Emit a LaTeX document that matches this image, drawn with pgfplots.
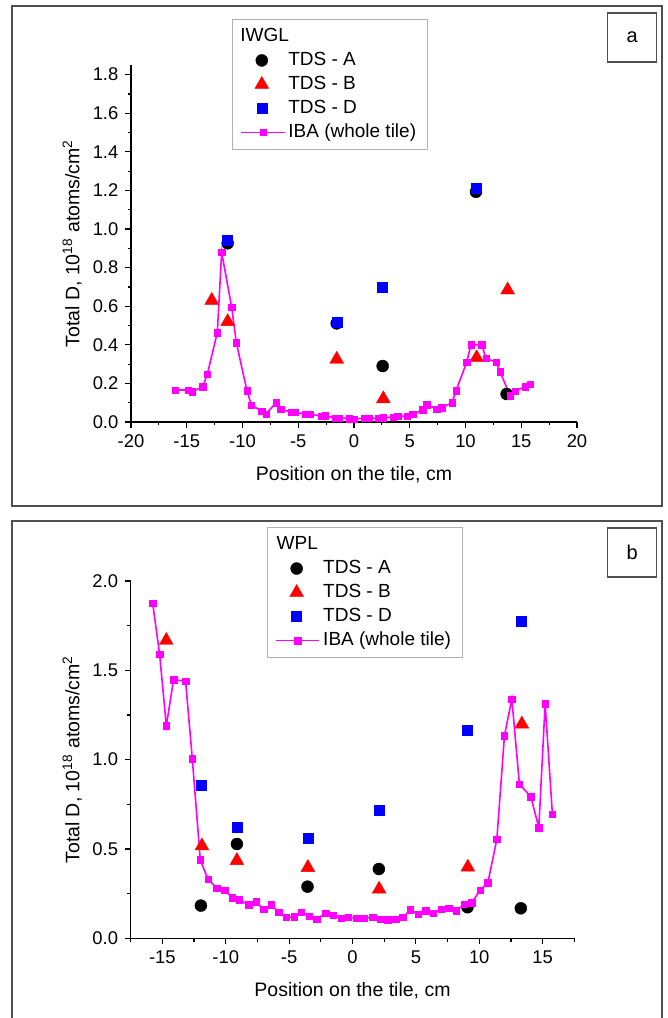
\documentclass[border=0pt]{standalone}
\usepackage{fontspec}
\setmainfont{Liberation Sans}
\usepackage{pgfplots}
\pgfplotsset{compat=1.18}
\definecolor{iba}{RGB}{255,0,255}
\definecolor{frame}{RGB}{80,80,80}
\pgfplotsset{
  common/.style={
    scale only axis,
    axis x line*=bottom, axis y line*=left,
    axis line style={-, line width=0.6pt, black},
    tick align=outside,
    tick style={line width=0.6pt, black},
    major tick length=2.8pt, minor tick length=1.6pt,
    /pgf/number format/assume math mode=true,
    ticklabel style={font=\fontsize{9.2}{11}\selectfont},
    yticklabel style={/pgf/number format/.cd, fixed, fixed zerofill, precision=1},
    xticklabel style={/pgf/number format/.cd, fixed},
    label style={font=\fontsize{9.75}{11.5}\selectfont},
    xlabel={Position on the tile, cm},
    ylabel={Total D, 10\textsuperscript{18} atoms/cm\textsuperscript{2}},
    xlabel style={at={(axis description cs:0.5,-0.148)}, anchor=center},
    ylabel style={at={(axis description cs:-0.132,0.5)}, anchor=center},
    legend style={anchor=north west, draw=gray!60, line width=0.5pt, fill=white,
      font=\fontsize{9.5}{11}\selectfont,
      inner xsep=4pt, inner ysep=2.5pt, row sep=0pt,
      nodes={inner sep=1.5pt, text height=7pt, text depth=2pt}},
    legend cell align=left,
    tdsA/.style={only marks, mark=*, black, mark size=3pt, mark options={line width=0.2pt},
      legend image code/.code={\path (0,0) (0.76cm,0);\draw[##1] plot coordinates {(0.36cm,0cm)};}},
    tdsB/.style={only marks, mark=triangle*, red, mark size=4pt, mark options={line width=0.2pt},
      legend image code/.code={\path (0,0) (0.76cm,0);\draw[##1] plot coordinates {(0.36cm,0cm)};}},
    tdsD/.style={only marks, mark=square*, blue, mark size=2.5pt, mark options={line width=0.2pt},
      legend image code/.code={\path (0,0) (0.76cm,0);\draw[##1] plot coordinates {(0.36cm,0cm)};}},
    ibaS/.style={iba, line width=0.8pt, mark=square*, mark size=1.6pt, mark options={line width=0.2pt},
      legend image code/.code={\draw[mark repeat=2,mark phase=2,##1] plot coordinates {(0cm,0cm) (0.38cm,0cm) (0.76cm,0cm)};}},
  }
}
\begin{document}
\begin{tikzpicture}
\useasboundingbox (0pt,0pt) rectangle (334pt,509pt);
% frames
\draw[line width=0.6pt, frame] (6pt,256pt) rectangle (331pt,506pt);
\draw[line width=0.6pt, frame] (6pt,0pt) -- (6pt,248.5pt) -- (331pt,248.5pt) -- (331pt,0pt);
\draw[line width=0.6pt, frame] (303.85pt,478pt) rectangle (328.35pt,502.5pt);
\node[font=\fontsize{10}{12}\selectfont] at (316.1pt,490.5pt) {a};
\draw[line width=0.6pt, frame] (303.85pt,220.5pt) rectangle (328.35pt,245pt);
\node[font=\fontsize{10}{12}\selectfont] at (316.1pt,233pt) {b};

% ---------------- panel a ----------------
\begin{axis}[common,
  at={(65.5pt,298pt)}, anchor=south west,
  width=223pt, height=178.5pt,
  xmin=-20, xmax=20, ymin=0, ymax=1.85,
  xtick={-20,-15,...,20}, minor xtick={-17.5,-12.5,...,17.5},
  ytick={0,0.2,0.4,0.6,0.8,1.0,1.2,1.4,1.6,1.8},
  minor ytick={0.1,0.3,0.5,0.7,0.9,1.1,1.3,1.5,1.7},
  legend style={at={(axis description cs:0.2265,1.129)}},
]
\addlegendimage{empty legend}
\addlegendentry{\hspace*{-24pt}IWGL}
\addplot[tdsA] coordinates {(-11.33,0.926) (-1.55,0.511) (2.57,0.29) (10.94,1.193) (13.69,0.145)};
\addlegendentry{TDS - A}
\addplot[tdsB] coordinates {(-12.76,0.63) (-11.33,0.52) (-1.55,0.325) (2.63,0.12) (11.0,0.333) (13.78,0.684)};
\addlegendentry{TDS - B}
\addplot[tdsD] coordinates {(-11.33,0.943) (-1.55,0.516) (2.57,0.70) (10.94,1.21)};
\addlegendentry{TDS - D}
\addplot[ibaS] coordinates {
(-16.05,0.166) (-14.86,0.166) (-14.5,0.157) (-13.57,0.183) (-13.16,0.247)
(-12.26,0.463) (-11.87,0.88) (-10.97,0.594) (-10.55,0.41) (-9.6,0.162)
(-9.2,0.088) (-8.28,0.057) (-7.9,0.041) (-7.0,0.10) (-6.57,0.066)
(-5.59,0.05) (-5.3,0.05) (-4.4,0.041) (-3.95,0.041) (-2.96,0.03)
(-2.6,0.033) (-1.7,0.021) (-1.32,0.021) (-0.42,0.018) (0.03,0.016)
(0.9,0.02) (1.37,0.02) (2.18,0.02) (2.63,0.022) (3.53,0.025)
(3.92,0.03) (4.78,0.03) (5.26,0.04) (6.16,0.063) (6.52,0.09)
(7.42,0.067) (7.86,0.074) (8.79,0.10) (9.15,0.162) (10.1,0.309)
(10.49,0.40) (11.45,0.40) (11.84,0.33) (12.74,0.31) (13.1,0.26)
(14.0,0.136) (14.44,0.16) (15.34,0.183) (15.78,0.195)};
\addlegendentry{IBA (whole tile)}
\end{axis}

% ---------------- panel b ----------------
\begin{axis}[common,
  at={(65.35pt,39.85pt)}, anchor=south west,
  width=221.8pt, height=178.65pt,
  xmin=-17.5, xmax=17.5, ymin=0, ymax=2.0,
  xtick={-15,-10,...,15}, minor xtick={-17.5,-12.5,...,17.5},
  ytick={0,0.5,1.0,1.5,2.0}, minor ytick={0.25,0.75,1.25,1.75},
  legend style={at={(axis description cs:0.307,1.151)}},
]
\addlegendimage{empty legend}
\addlegendentry{\hspace*{-24pt}WPL}
\addplot[tdsA] coordinates {(-11.96,0.183) (-9.12,0.528) (-3.55,0.289) (2.08,0.388) (9.07,0.174) (13.28,0.168)};
\addlegendentry{TDS - A}
\addplot[tdsB] coordinates {(-14.69,1.667) (-11.88,0.517) (-9.12,0.435) (-3.52,0.396) (2.1,0.275) (9.1,0.398) (13.36,1.199)};
\addlegendentry{TDS - B}
\addplot[tdsD] coordinates {(-11.93,0.857) (-9.12,0.622) (-3.52,0.56) (2.08,0.719) (9.07,1.163) (13.28,1.774)};
\addlegendentry{TDS - D}
\addplot[ibaS] coordinates {
(-15.77,1.877) (-15.22,1.591) (-14.69,1.189) (-14.12,1.447) (-13.17,1.44)
(-12.64,1.006) (-12.01,0.439) (-11.4,0.33) (-10.7,0.28) (-10.09,0.27)
(-9.5,0.227) (-8.92,0.216) (-8.2,0.187) (-7.6,0.205) (-7.02,0.162)
(-6.41,0.187) (-5.83,0.146) (-5.23,0.118) (-4.6,0.121) (-4.05,0.146)
(-3.41,0.125) (-2.81,0.108) (-2.13,0.14) (-1.5,0.13) (-0.89,0.112)
(-0.32,0.118) (0.29,0.112) (0.87,0.112) (1.58,0.118) (2.18,0.106)
(2.79,0.103) (3.42,0.106) (3.97,0.118) (4.57,0.159) (5.2,0.134)
(5.79,0.155) (6.39,0.14) (6.99,0.164) (7.6,0.168) (8.2,0.155)
(8.83,0.192) (9.42,0.2) (10.07,0.27) (10.68,0.311) (11.39,0.555)
(11.99,1.135) (12.57,1.34) (13.17,0.863) (14.07,0.793) (14.7,0.62)
(15.2,1.313) (15.77,0.695)};
\addlegendentry{IBA (whole tile)}
\end{axis}
\end{tikzpicture}
\end{document}
